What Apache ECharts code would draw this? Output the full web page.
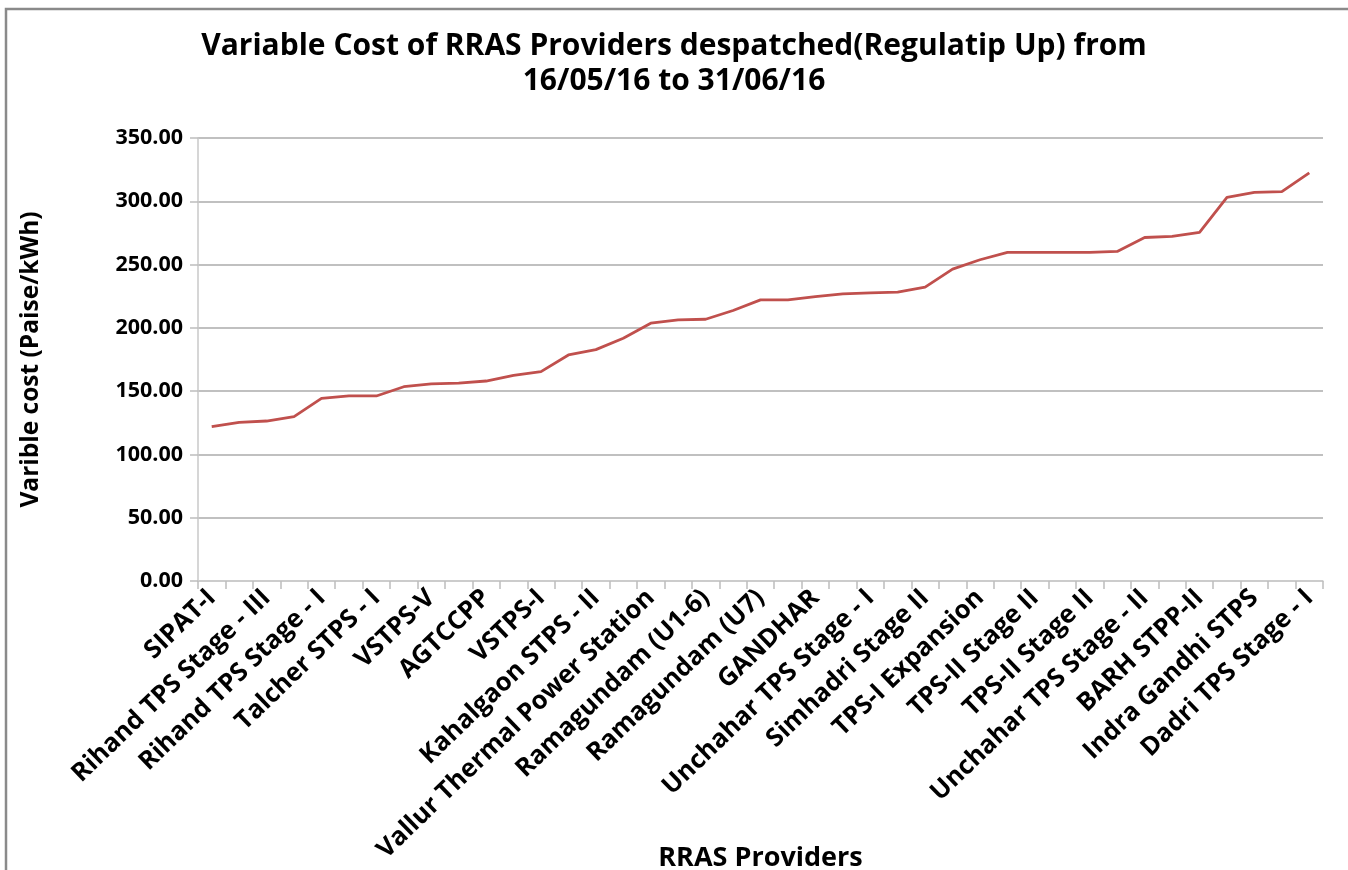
<!DOCTYPE html>
<html>
<head>
<meta charset="utf-8">
<script src="https://cdn.jsdelivr.net/npm/echarts@6/dist/echarts.min.js"></script>
<style>
  html, body { margin: 0; padding: 0; background: #fff; }
  #chart { width: 1348px; height: 870px; }
</style>
</head>
<body>
<div id="chart"></div>
<script>
// Categories: only every other name is legible in the source; hidden ones left blank
const categories = [
  "SIPAT-I", "", "Rihand TPS Stage - III", "", "Rihand TPS Stage - I", "",
  "Talcher STPS - I", "", "VSTPS-V", "", "AGTCCPP", "", "VSTPS-I", "",
  "Kahalgaon STPS - II", "", "Vallur Thermal Power Station", "", "Ramagundam (U1-6)", "",
  "Ramagundam (U7)", "", "GANDHAR", "", "Unchahar TPS Stage - I", "",
  "Simhadri Stage II", "", "TPS-I Expansion", "", "TPS-II Stage II", "",
  "TPS-II Stage II", "", "Unchahar TPS Stage - II", "", "BARH STPP-II", "",
  "Indra Gandhi STPS", "", "Dadri TPS Stage - I"
];
const variableCost = [
  121.9, 125.3, 126.4, 129.8, 144.3, 146.2, 146.2, 153.5, 155.7, 156.4,
  158.0, 162.5, 165.4, 178.6, 182.8, 191.8, 203.7, 206.3, 206.8, 213.7,
  222.1, 222.1, 224.7, 226.9, 227.7, 228.2, 232.2, 246.4, 253.8, 259.6,
  259.6, 259.6, 259.6, 260.4, 271.4, 272.2, 275.4, 303.1, 307.0, 307.6,
  322.4
];
const titleText = "Variable Cost of RRAS Providers despatched(Regulatip Up) from\n16/05/16 to 31/06/16";
const yAxisName = "Varible cost (Paise/kWh)";
const xAxisName = "RRAS Providers";

const FONT = "Open Sans";
const chart = echarts.init(document.getElementById('chart'), null, { renderer: 'canvas' });
chart.setOption({
  animation: false,
  backgroundColor: '#ffffff',
  graphic: [{
    type: 'rect',
    shape: { x: 6, y: 9, width: 1400, height: 900 },
    style: { fill: 'none', stroke: '#8a8a8a', lineWidth: 2.5 },
    silent: true
  }],
  title: {
    text: titleText,
    left: 'center',
    top: 24,
    textStyle: {
      fontFamily: FONT, fontWeight: 'bold', fontSize: 30, color: '#000',
      lineHeight: 35
    }
  },
  grid: {
    left: 198, right: 25, top: 138, bottom: 289,
    containLabel: false, outerBoundsMode: 'none'
  },
  xAxis: {
    type: 'category',
    data: categories,
    boundaryGap: true,
    name: xAxisName,
    nameLocation: 'middle',
    nameGap: 264,
    nameMoveOverlap: false,
    nameTextStyle: { fontFamily: FONT, fontWeight: 'bold', fontSize: 27, color: '#000' },
    axisLine: { show: true, lineStyle: { color: '#d0d0d0', width: 1.5 } },
    axisTick: { show: true, interval: 0, length: 8, lineStyle: { color: '#bdbdbd', width: 1.5 } },
    axisLabel: {
      interval: 1, rotate: 44, margin: 13,
      fontFamily: FONT, fontWeight: 'bold', fontSize: 25.5, color: '#000'
    },
    splitLine: { show: false }
  },
  yAxis: {
    type: 'value',
    min: 0, max: 350, interval: 50,
    name: yAxisName,
    nameLocation: 'middle',
    nameGap: 154,
    nameRotate: 90,
    nameMoveOverlap: false,
    nameTextStyle: { fontFamily: FONT, fontWeight: 'bold', fontSize: 24.5, color: '#000' },
    axisLine: { show: true, lineStyle: { color: '#c8c8c8', width: 1.5 } },
    axisTick: { show: true, length: 8, lineStyle: { color: '#bdbdbd', width: 1.5 } },
    axisLabel: {
      margin: 15,
      fontFamily: FONT, fontWeight: 'bold', fontSize: 21.5, color: '#000',
      formatter: v => v.toFixed(2)
    },
    splitLine: { show: true, lineStyle: { color: '#ababab', width: 1.5 } }
  },
  series: [{
    type: 'line',
    data: variableCost,
    symbol: 'none',
    lineStyle: { color: '#c0504d', width: 2.8 },
    itemStyle: { color: '#c0504d' }
  }]
});
</script>
</body>
</html>
